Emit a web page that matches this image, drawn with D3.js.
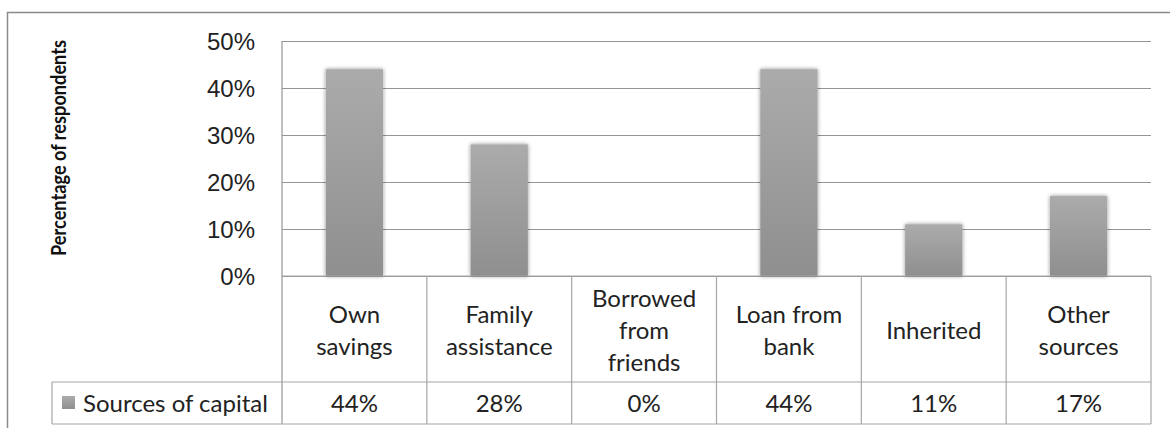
<!DOCTYPE html>
<html>
<head>
<meta charset="utf-8">
<script src="https://cdn.jsdelivr.net/npm/d3@7"></script>
<style>
  body { margin: 0; background: #fff; }
  svg { display: block; font-family: Lato, "Open Sans", sans-serif; }
</style>
</head>
<body>
<svg class="capital" width="1170" height="428"></svg>
<script>
// data
var categories = ["Own savings", "Family assistance", "Borrowed from friends", "Loan from bank", "Inherited", "Other sources"];
var categoryLines = [["Own", "savings"], ["Family", "assistance"], ["Borrowed", "from", "friends"], ["Loan from", "bank"], ["Inherited"], ["Other", "sources"]];
var values = [0.44, 0.28, 0, 0.44, 0.11, 0.17];
var valueLabels = ["44%", "28%", "0%", "44%", "11%", "17%"];
var yTicks = [0, 0.1, 0.2, 0.3, 0.4, 0.5];
var seriesName = "Sources of capital";
var yTitle = "Percentage of respondents";

var svg = d3.select("svg.capital"),
    plotLeft = 282, plotRight = 1151,
    plotTop = 41, zero = 276,
    catRow = 382, valRow = 424,
    legendLeft = 52,
    gridCol = "#959595", tableCol = "#a6a6a6",
    fontSize = "24px";

var x = d3.scaleBand().domain(categories).range([plotLeft, plotRight]).paddingInner(0).paddingOuter(0),
    y = d3.scaleLinear().domain([0, 0.5]).range([zero, plotTop]);

var defs = svg.append("defs");
var grad = defs.append("linearGradient").attr("id", "barGrad")
    .attr("x1", 0).attr("y1", 0).attr("x2", 0).attr("y2", 1);
grad.append("stop").attr("offset", "0%").attr("stop-color", "#ababab");
grad.append("stop").attr("offset", "100%").attr("stop-color", "#8f8f8f");

var shadow = defs.append("filter").attr("id", "soft")
    .attr("x", "-20%").attr("y", "-10%").attr("width", "140%").attr("height", "120%");
shadow.append("feGaussianBlur").attr("in", "SourceAlpha").attr("stdDeviation", 2).attr("result", "b");
shadow.append("feComponentTransfer").attr("in", "b").attr("result", "s")
    .append("feFuncA").attr("type", "linear").attr("slope", 0.45);
var merge = shadow.append("feMerge");
merge.append("feMergeNode").attr("in", "s");
merge.append("feMergeNode").attr("in", "SourceGraphic");

// outer chart frame (cropped at right and bottom)
svg.append("rect")
    .attr("x", 7.5).attr("y", 12.5)
    .attr("width", 1300).attr("height", 600)
    .attr("fill", "none")
    .attr("stroke", "#8a8a8a")
    .attr("stroke-width", 1.5);

// y axis with gridlines
var yAxis = svg.append("g")
    .attr("class", "axis axis--y")
    .attr("transform", "translate(" + plotLeft + ",0)")
    .call(d3.axisLeft(y).tickValues(yTicks).tickFormat(d3.format(".0%"))
        .tickSize(-(plotRight - plotLeft)).tickPadding(27));
yAxis.select(".domain").remove();
yAxis.selectAll(".tick line").attr("stroke", gridCol).attr("stroke-width", 1.2);
yAxis.selectAll(".tick text")
    .attr("fill", "#222")
    .style("font-size", fontSize)
    .attr("dy", "0.36em");

// vertical axis line down through the category row
svg.append("line")
    .attr("x1", plotLeft).attr("x2", plotLeft)
    .attr("y1", plotTop).attr("y2", valRow)
    .attr("stroke", gridCol).attr("stroke-width", 1.2);

// bars
var bw = x.bandwidth() * 0.395;
svg.append("g").selectAll("rect")
    .data(values)
    .enter().append("rect")
    .attr("x", function(d, i) { return x(categories[i]) + (x.bandwidth() - bw) / 2; })
    .attr("y", function(d) { return y(d); })
    .attr("width", bw)
    .attr("height", function(d) { return zero - y(d); })
    .attr("fill", "url(#barGrad)")
    .attr("filter", "url(#soft)")
    .style("display", function(d) { return d > 0 ? null : "none"; });

// data table
var table = svg.append("g").attr("class", "table");
table.append("line").attr("x1", plotLeft).attr("x2", plotRight).attr("y1", zero).attr("y2", zero)
    .attr("stroke", tableCol).attr("stroke-width", 1.2);
table.append("line").attr("x1", legendLeft).attr("x2", plotRight).attr("y1", catRow).attr("y2", catRow)
    .attr("stroke", tableCol).attr("stroke-width", 1.2);
table.append("line").attr("x1", legendLeft).attr("x2", plotRight).attr("y1", valRow).attr("y2", valRow)
    .attr("stroke", tableCol).attr("stroke-width", 1.2);
table.append("line").attr("x1", legendLeft).attr("x2", legendLeft).attr("y1", catRow).attr("y2", valRow)
    .attr("stroke", tableCol).attr("stroke-width", 1.2);
table.selectAll(".sep")
    .data(categories)
    .enter().append("line")
    .attr("class", "sep")
    .attr("x1", function(d) { return x(d) + x.bandwidth(); })
    .attr("x2", function(d) { return x(d) + x.bandwidth(); })
    .attr("y1", zero).attr("y2", valRow)
    .attr("stroke", tableCol).attr("stroke-width", 1.2);

// category labels
var lineH = 32, catMid = (zero + catRow) / 2 + 1;
table.selectAll(".cat")
    .data(categoryLines)
    .enter().append("text")
    .attr("class", "cat")
    .attr("text-anchor", "middle")
    .attr("fill", "#222")
    .style("font-size", fontSize)
    .each(function(lines, i) {
        var t = d3.select(this),
            cx = x(categories[i]) + x.bandwidth() / 2,
            y0 = catMid - (lines.length - 1) * lineH / 2;
        lines.forEach(function(l, j) {
            t.append("tspan").attr("x", cx).attr("y", y0 + j * lineH).attr("dy", "0.36em").text(l);
        });
    });

// value labels
table.selectAll(".val")
    .data(valueLabels)
    .enter().append("text")
    .attr("class", "val")
    .attr("x", function(d, i) { return x(categories[i]) + x.bandwidth() / 2; })
    .attr("y", (catRow + valRow) / 2)
    .attr("dy", "0.36em")
    .attr("text-anchor", "middle")
    .attr("fill", "#222")
    .style("font-size", fontSize)
    .text(function(d) { return d; });

// legend key in table
table.append("rect")
    .attr("x", 62).attr("y", 396)
    .attr("width", 13).attr("height", 13)
    .attr("fill", "url(#barGrad)");
table.append("text")
    .attr("x", 83)
    .attr("y", (catRow + valRow) / 2)
    .attr("dy", "0.36em")
    .attr("fill", "#222")
    .style("font-size", fontSize)
    .text(seriesName);

// y title, squeezed a little to the reference length
svg.append("text")
    .attr("transform", "translate(58,148) rotate(-90)")
    .attr("dy", "0.36em")
    .attr("text-anchor", "middle")
    .attr("fill", "#111")
    .attr("textLength", 216)
    .attr("lengthAdjust", "spacingAndGlyphs")
    .style("font-size", "21px")
    .style("font-weight", "bold")
    .text(yTitle);
</script>
</body>
</html>
